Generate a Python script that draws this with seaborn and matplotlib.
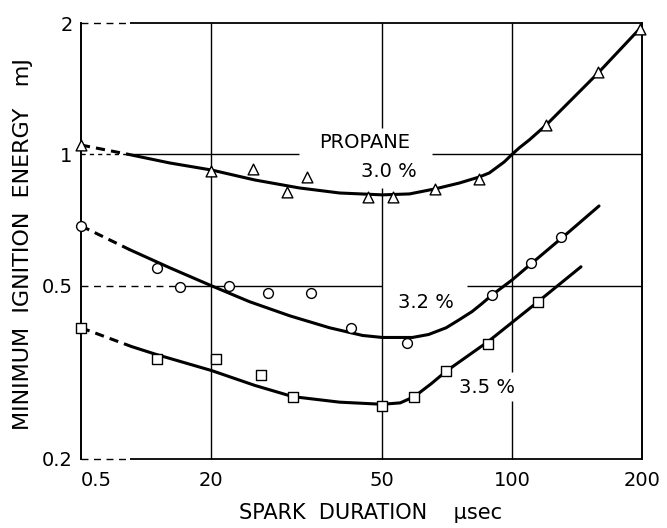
import numpy as np
import pandas as pd
import matplotlib
matplotlib.use('Agg')
import matplotlib.pyplot as plt
import seaborn as sns

tri_x = [10, 20, 25.1, 30.0, 33.5, 46.2, 53.0, 66.3, 83.9, 119.9, 158.2, 197.8]
tri_y = [1.05, 0.915, 0.925, 0.82, 0.887, 0.80, 0.80, 0.833, 0.878, 1.167, 1.543, 1.935]

circ_x = [10, 15.0, 17.0, 22.0, 27.1, 34.1, 42.2, 57.1, 89.9, 110.7, 129.9]
circ_y = [0.685, 0.549, 0.497, 0.499, 0.481, 0.481, 0.400, 0.370, 0.476, 0.564, 0.646]

sq_x = [10, 15.0, 20.6, 26.2, 31.0, 50.0, 59.3, 70.3, 88.0, 114.8]
sq_y = [0.400, 0.340, 0.340, 0.311, 0.278, 0.264, 0.278, 0.318, 0.368, 0.459]

# curvas ajustadas (trazo continuo)
c30_x = [12.85, 16.07, 20.1, 25.3, 32.1, 39.8, 50.0, 57.8, 66.3, 75.4, 83.9, 88.5, 95.8, 100, 103.8, 109.5, 119.9, 158, 198]
c30_y = [1.0, 0.955, 0.920, 0.873, 0.837, 0.815, 0.807, 0.811, 0.833, 0.859, 0.887, 0.906, 0.960, 1.0, 1.034, 1.078, 1.167, 1.534, 1.945]
c32_x = [12.98, 16.07, 20.1, 24.6, 30.5, 37.7, 45.0, 50.0, 58.7, 64.0, 70.3, 75.0, 80.8, 85.0, 89.9, 100, 110.7, 135.5, 159.0]
c32_y = [0.604, 0.549, 0.499, 0.459, 0.426, 0.400, 0.384, 0.380, 0.380, 0.386, 0.400, 0.416, 0.436, 0.454, 0.476, 0.515, 0.561, 0.664, 0.761]
c35_x = [13.12, 15.0, 20.1, 25.3, 31.0, 39.8, 50.0, 55.0, 59.3, 65.0, 70.3, 88.0, 114.8, 144.4]
c35_y = [0.362, 0.347, 0.319, 0.295, 0.278, 0.270, 0.267, 0.269, 0.278, 0.298, 0.318, 0.372, 0.459, 0.552]

# tramos extrapolados (trazo discontinuo)
d30_x, d30_y = [10, 12.85], [1.05, 1.0]
d32_x, d32_y = [10, 12.98], [0.685, 0.604]
d35_x, d35_y = [10, 13.12], [0.400, 0.362]

xticks = [10, 20, 50, 100, 200]
xtick_labels = ['0.5', '20', '50', '100', '200']
yticks = [0.2, 0.5, 1, 2]
ytick_labels = ['0.2', '0.5', '1', '2']

sns.set_style('white')
plt.rcParams['font.family'] = ['DejaVu Sans']
plt.rcParams['text.color'] = 'black'
plt.rcParams['axes.labelcolor'] = 'black'
plt.rcParams['xtick.color'] = 'black'
plt.rcParams['ytick.color'] = 'black'

fig, ax = plt.subplots(figsize=(6.67, 5.28), dpi=100)
fig.subplots_adjust(left=0.1214, right=0.9625, top=0.9564, bottom=0.1307)
ax.set_xscale('log')
ax.set_yscale('log')
ax.set_xlim(10, 200)
ax.set_ylim(0.2, 2)

# cuadricula a mano (tiene tramos punteados y huecos para los textos)
g = dict(color='black', linewidth=1.0, zorder=1, clip_on=False)
gd = dict(g, linestyles=(0, (5, 4)))
ax.hlines(2, 10, 13, **gd)
ax.hlines(2, 13, 200, **dict(g, linewidth=1.3))
ax.hlines(0.2, 10, 13, **gd)
ax.hlines(0.2, 13, 200, **dict(g, linewidth=1.3))
ax.hlines(1, 10, 12.85, **dict(gd, linestyles=(0, (3, 3))))
ax.hlines(1, 12.85, 32.1, **g)
ax.hlines(1, 65.3, 200, **g)
ax.hlines(0.5, 10, 17, **gd)
ax.hlines(0.5, 17, 50, **g)
ax.hlines(0.5, 78.7, 200, **g)
ax.vlines(20, 0.2, 2, **g)
ax.vlines(50, 0.2, 0.837, **g)
ax.vlines(50, 1.148, 2, **g)
ax.vlines(100, 0.2, 0.271, **g)
ax.vlines(100, 0.316, 2, **g)

for s in ['top', 'bottom']:
    ax.spines[s].set_visible(False)
for s in ['left', 'right']:
    ax.spines[s].set_linewidth(1.4)
    ax.spines[s].set_color('black')

# curvas
for cx, cy in [(c30_x, c30_y), (c32_x, c32_y), (c35_x, c35_y)]:
    sns.lineplot(x=cx, y=cy, ax=ax, color='black', linewidth=2.2, sort=False,
                 estimator=None, zorder=3)
for cx, cy in [(d30_x, d30_y), (d32_x, d32_y), (d35_x, d35_y)]:
    sns.lineplot(x=cx, y=cy, ax=ax, color='black', linewidth=2.2, sort=False,
                 estimator=None, zorder=3, linestyle=(0, (3, 2)))

# puntos
sns.scatterplot(x=tri_x, y=tri_y, ax=ax, marker='^', s=60, facecolor='white',
                edgecolor='black', linewidth=1.0, zorder=4, clip_on=False)
sns.scatterplot(x=circ_x, y=circ_y, ax=ax, marker='o', s=50, facecolor='white',
                edgecolor='black', linewidth=1.0, zorder=4, clip_on=False)
sns.scatterplot(x=sq_x, y=sq_y, ax=ax, marker='s', s=45, facecolor='white',
                edgecolor='black', linewidth=1.0, zorder=4, clip_on=False)

fs = 14
ax.text(45.6, 1.066, 'PROPANE', fontsize=fs, ha='center', va='center', zorder=2)
ax.text(51.9, 0.911, '3.0 %', fontsize=fs, ha='center', va='center', zorder=2)
ax.text(63.2, 0.457, '3.2 %', fontsize=fs, ha='center', va='center', zorder=2)
ax.text(87.2, 0.292, '3.5 %', fontsize=fs, ha='center', va='center', zorder=2)

ax.set_xticks(xticks)
ax.set_xticklabels(xtick_labels)
ax.set_yticks(yticks)
ax.set_yticklabels(ytick_labels)
ax.minorticks_off()
ax.tick_params(axis='both', length=0, labelsize=14)
ax.tick_params(axis='x', pad=9)
ax.tick_params(axis='y', pad=6)
ax.get_xticklabels()[0].set_horizontalalignment('left')

ax.set_xlabel('SPARK  DURATION    μsec', fontsize=15)
ax.xaxis.set_label_coords(0.517, -0.10)
ax.set_ylabel('MINIMUM  IGNITION  ENERGY   mJ', fontsize=16)
ax.yaxis.set_label_coords(-0.085, 0.493)

plt.savefig('out.png', dpi=100)
